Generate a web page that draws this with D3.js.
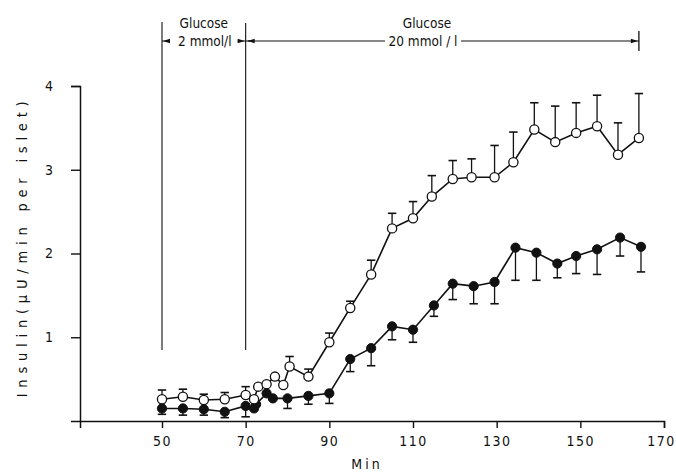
<!DOCTYPE html>
<html>
<head>
<meta charset="utf-8">
<script src="https://cdn.jsdelivr.net/npm/d3@7"></script>
<style>
  html, body { margin: 0; padding: 0; background: #fff; }
  svg { display: block; }
  text { font-family: "Liberation Sans Narrow", "DejaVu Sans Condensed", "Liberation Sans", sans-serif; fill: #111; }
</style>
</head>
<body>
<svg id="chart" width="676" height="474"></svg>
<script>
// ---- data ----
const openTimes  = [50, 55, 60, 65, 70, 72, 73, 75, 77, 79, 80.5, 85, 90, 95, 100, 105, 110, 114.5, 119.5, 124, 129.5, 134, 139, 144, 149, 154, 159, 164];
const openValues = [0.26, 0.29, 0.25, 0.26, 0.31, 0.26, 0.41, 0.44, 0.53, 0.43, 0.65, 0.53, 0.94, 1.35, 1.75, 2.30, 2.42, 2.68, 2.89, 2.91, 2.91, 3.09, 3.48, 3.33, 3.44, 3.52, 3.18, 3.38];
const openErrTop = [0.37, 0.38, 0.32, 0.34, 0.41, null, null, null, null, null, 0.77, 0.62, 1.05, 1.43, 1.92, 2.48, 2.62, 2.93, 3.11, 3.13, 3.29, 3.45, 3.80, 3.76, 3.80, 3.89, 3.56, 3.91];

const filledTimes  = [50, 55, 60, 65, 70, 72, 72.5, 75, 76.5, 80, 85, 90, 95, 100, 105, 110, 115, 119.5, 124.5, 129.5, 134.5, 139.5, 144.5, 149, 154, 159.5, 164.5];
const filledValues = [0.15, 0.15, 0.14, 0.11, 0.18, 0.15, 0.20, 0.33, 0.27, 0.27, 0.30, 0.33, 0.74, 0.87, 1.13, 1.09, 1.38, 1.64, 1.61, 1.66, 2.07, 2.01, 1.88, 1.97, 2.05, 2.19, 2.08];
const filledErrBot = [0.08, 0.07, 0.07, 0.04, 0.05, null, null, null, null, 0.15, 0.20, 0.21, 0.59, 0.66, 0.97, 0.94, 1.25, 1.45, 1.40, 1.40, 1.68, 1.68, 1.71, 1.76, 1.75, 1.97, 1.78];

const xTicks = [50, 70, 90, 110, 130, 150, 170];
const yTicks = [1, 2, 3, 4];
const phaseBounds = [50, 70, 164];
const phaseLabels = [["Glucose", "2 mmol/l"], ["Glucose", "20 mmol / l"]];
const xTitle = "Min";
const yTitle = "Insulin(\u03bcU/min per islet)";

// ---- scales ----
const svg = d3.select("#chart");
const x = d3.scaleLinear().domain([30.4, 170]).range([80, 664]);
const y = d3.scaleLinear().domain([0, 4]).range([421, 86]);
const fontSize = 14;
const fontStack = '"Liberation Sans Narrow", "DejaVu Sans Condensed", sans-serif';

// ---- axes ----
const xAxis = svg.append("g").attr("transform", `translate(0,${y(0)})`)
  .call(d3.axisBottom(x).tickValues(xTicks).tickSizeOuter(0).tickSize(7).tickPadding(8));
const yAxis = svg.append("g").attr("transform", `translate(${x(30.4)},0)`)
  .call(d3.axisLeft(y).tickValues(yTicks).tickSizeOuter(0).tickSize(9).tickPadding(18).tickFormat(d3.format("d")));
[xAxis, yAxis].forEach(g => {
  g.select(".domain").attr("stroke", "#111").attr("stroke-width", 1.5);
  g.selectAll(".tick line").attr("stroke", "#111").attr("stroke-width", 1.4);
  g.selectAll(".tick text").attr("fill", "#111")
    .style("font-family", fontStack)
    .style("font-size", fontSize + "px");
});
xAxis.selectAll(".tick text").style("letter-spacing", "1.5px").attr("dx", d => d === 170 ? -3 : 0);

// axis titles
svg.append("text").attr("x", 367).attr("y", 469).attr("text-anchor", "middle")
  .style("font-size", "14px").style("letter-spacing", "3px").text(xTitle);
svg.append("text").attr("transform", `translate(27,${y(2.05)}) rotate(-90)`)
  .attr("text-anchor", "middle").style("font-size", "14.5px")
  .attr("textLength", 296).attr("lengthAdjust", "spacing").text(yTitle);

// ---- phase annotations ----
const ann = svg.append("g").attr("stroke", "#111").attr("fill", "none");
const arrowY = 41;
ann.append("line").attr("x1", x(phaseBounds[0])).attr("x2", x(phaseBounds[0])).attr("y1", 22).attr("y2", 350).attr("stroke-width", 1.1);
ann.append("line").attr("x1", x(phaseBounds[1])).attr("x2", x(phaseBounds[1])).attr("y1", 23).attr("y2", 350).attr("stroke-width", 1.1);
ann.append("line").attr("x1", x(phaseBounds[2])).attr("x2", x(phaseBounds[2])).attr("y1", 31).attr("y2", 51).attr("stroke-width", 1.3);

function arrowHead(xTip, dir) {
  svg.append("path")
    .attr("d", `M${xTip},${arrowY} L${xTip - dir * 7},${arrowY - 2.2} L${xTip - dir * 7},${arrowY + 2.2} Z`)
    .attr("fill", "#111");
}
const labFs = "13.5px";
const p1c = (x(phaseBounds[0]) + x(phaseBounds[1])) / 2;
svg.append("text").attr("x", p1c).attr("y", 28).attr("text-anchor", "middle").style("font-size", labFs).text(phaseLabels[0][0]);
svg.append("text").attr("x", p1c + 1).attr("y", 46).attr("text-anchor", "middle").style("font-size", labFs).text(phaseLabels[0][1]);
ann.append("line").attr("x1", x(phaseBounds[0])).attr("x2", x(phaseBounds[0]) + 7).attr("y1", arrowY).attr("y2", arrowY);
arrowHead(x(phaseBounds[0]) + 1, -1);
ann.append("line").attr("x1", x(phaseBounds[1]) - 8).attr("x2", x(phaseBounds[1]) + 8).attr("y1", arrowY).attr("y2", arrowY);
arrowHead(x(phaseBounds[1]) - 1, 1);
const p2c = 423;
svg.append("text").attr("x", p2c + 4).attr("y", 28).attr("text-anchor", "middle").style("font-size", labFs).text(phaseLabels[1][0]);
svg.append("text").attr("x", p2c).attr("y", 46).attr("text-anchor", "middle").style("font-size", labFs).text(phaseLabels[1][1]);
ann.append("line").attr("x1", x(phaseBounds[1]) + 2).attr("x2", p2c - 38).attr("y1", arrowY).attr("y2", arrowY).attr("stroke-width", 1.1);
arrowHead(x(phaseBounds[1]) + 2, -1);
ann.append("line").attr("x1", p2c + 38).attr("x2", x(phaseBounds[2])).attr("y1", arrowY).attr("y2", arrowY).attr("stroke-width", 1.1);
arrowHead(x(phaseBounds[2]) - 1, 1);

// ---- series ----
const openData = openTimes.map((t, i) => ({ t, v: openValues[i], e: openErrTop[i] }));
const filledData = filledTimes.map((t, i) => ({ t, v: filledValues[i], e: filledErrBot[i] }));
const r = 4.6, cap = 4.2;

const line = d3.line().x(d => x(d.t)).y(d => y(d.v));

function drawErr(data) {
  const g = svg.append("g").attr("stroke", "#111").attr("stroke-width", 1.3);
  data.filter(d => d.e != null).forEach(d => {
    const cx = x(d.t), cy = y(d.v), ey = y(d.e);
    g.append("line").attr("x1", cx).attr("x2", cx).attr("y1", cy).attr("y2", ey);
    g.append("line").attr("x1", cx - cap).attr("x2", cx + cap).attr("y1", ey).attr("y2", ey).attr("stroke-width", 1.6);
  });
}
drawErr(openData);
drawErr(filledData);

svg.append("path").datum(filledData).attr("d", line).attr("fill", "none").attr("stroke", "#111").attr("stroke-width", 1.6);
svg.append("path").datum(openData).attr("d", line).attr("fill", "none").attr("stroke", "#111").attr("stroke-width", 1.6);

svg.append("g").selectAll("circle").data(filledData).join("circle")
  .attr("cx", d => x(d.t)).attr("cy", d => y(d.v)).attr("r", r)
  .attr("fill", "#111").attr("stroke", "#111").attr("stroke-width", 1);
svg.append("g").selectAll("circle").data(openData).join("circle")
  .attr("cx", d => x(d.t)).attr("cy", d => y(d.v)).attr("r", r)
  .attr("fill", "#fff").attr("stroke", "#111").attr("stroke-width", 1.3);
</script>
</body>
</html>
